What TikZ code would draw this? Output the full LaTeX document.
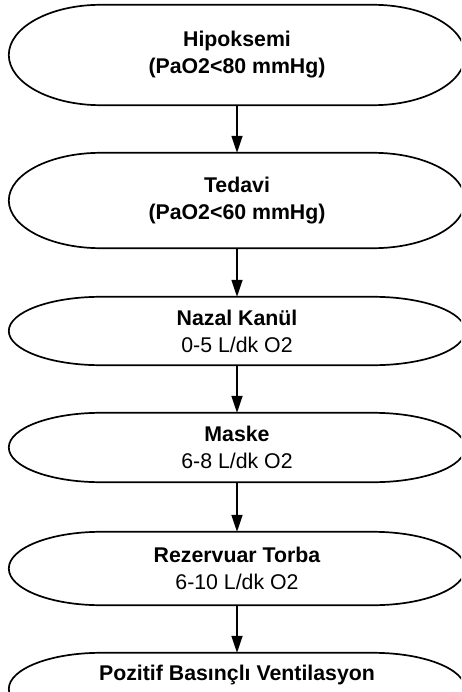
\documentclass[tikz,border=0pt]{standalone}
\usepackage{fontspec}
\setmainfont{Liberation Sans}
\usetikzlibrary{arrows.meta,calc}
\tikzset{
  box/.style={rectangle, minimum width=456pt, inner sep=0pt, align=center,
    font=\fontsize{21.3}{27}\selectfont, text=black},
  txt/.style={inner sep=0pt, align=center, font=\fontsize{21.3}{27}\selectfont},
  outline/.style={draw=black, line width=1.7pt, fill=white},
  arr/.style={draw=black, line width=1.7pt, -{Triangle[length=17pt,width=11pt]}}
}
\newcommand\termshape[1]{%
  \path[outline] let \p1=(#1.north), \p2=(#1.south), \n1={(\y1-\y2)/2} in
    ([xshift=92pt]#1.north west) -- ([xshift=-92pt]#1.north east)
    arc[start angle=90, end angle=-90, x radius=92pt, y radius=\n1]
    -- ([xshift=92pt]#1.south west)
    arc[start angle=270, end angle=90, x radius=92pt, y radius=\n1] -- cycle;}
\begin{document}
\begin{tikzpicture}[x=1pt,y=1pt]
\useasboundingbox (0,0) rectangle (461,-692);
\clip (0,0) rectangle (461,-692);
\path[fill=white] (0,0) rectangle (461,-692);
% shapes
\node[box, minimum height=100pt] (n1) at (237,-55) {};
\node[box, minimum height=95pt] (n2) at (237,-200.5) {};
\node[box, minimum height=68pt] (n3) at (237,-331) {};
\node[box, minimum height=69pt] (n4) at (237,-447.5) {};
\node[box, minimum height=73pt] (n5) at (237,-568.5) {};
\node[box, minimum height=72pt] (n6) at (237,-689) {};
\termshape{n1}
\termshape{n2}
\termshape{n3}
\termshape{n4}
\termshape{n5}
\termshape{n6}
% texts
\node[txt] (t1) at (n1.center) {\bfseries Hipoksemi\\\bfseries (PaO2<80 mmHg)};
\node[txt] (t2) at (n2.center) {\bfseries Tedavi\\\bfseries (PaO2<60 mmHg)};
\node[txt] (t3) at (n3.center) {\bfseries Nazal Kanül\\0-5 L/dk O2};
\node[txt] (t4) at (n4.center) {\bfseries Maske\\6-8 L/dk O2};
\node[txt] (t5) at (n5.center) {\bfseries Rezervuar Torba\\6-10 L/dk O2};
\node[txt] (t6) at (237,-675) {\bfseries Pozitif Basınçlı Ventilasyon};
% arrows
\draw[arr] (n1.south) -- (n2.north);
\draw[arr] (n2.south) -- (n3.north);
\draw[arr] (n3.south) -- (n4.north);
\draw[arr] (n4.south) -- (n5.north);
\draw[arr] (n5.south) -- (n6.north);
\end{tikzpicture}
\end{document}
